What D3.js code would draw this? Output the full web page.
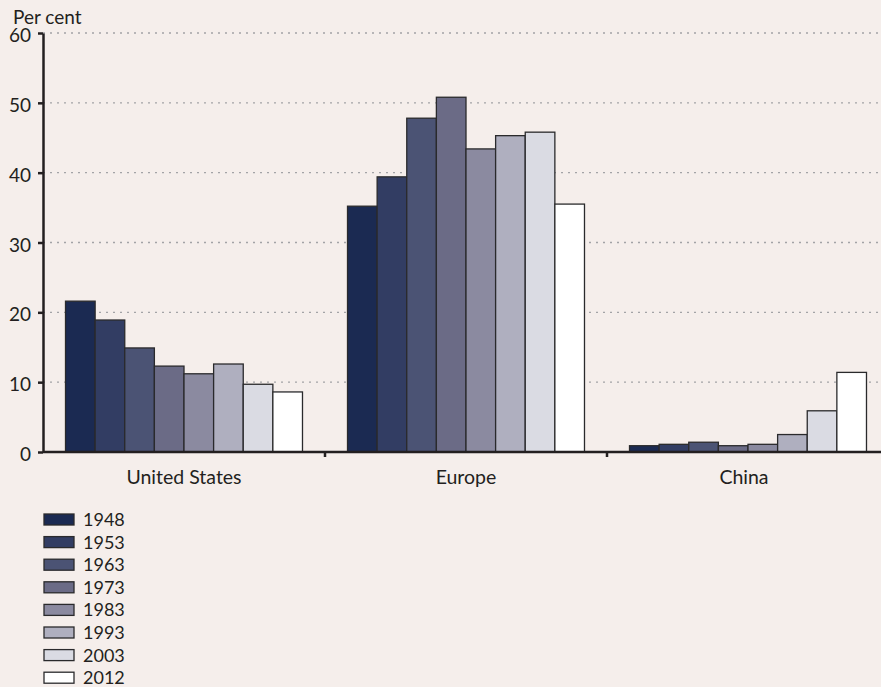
<html>
<head>
<script src="https://d3js.org/d3.v7.min.js"></script>
<style>
  body { margin: 0; background: #f5eeeb; }
  svg { display: block; background: #f5eeeb; font-family: Lato, "Open Sans", sans-serif; }
</style>
</head>
<body>
<svg id="chart"></svg>
<script>
// data (share of world, per cent)
var regions = ["United States", "Europe", "China"];
var years = ["1948", "1953", "1963", "1973", "1983", "1993", "2003", "2012"];
var usValues = [21.6, 18.9, 14.9, 12.3, 11.2, 12.6, 9.7, 8.6];
var europeValues = [35.2, 39.4, 47.8, 50.8, 43.4, 45.3, 45.8, 35.5];
var chinaValues = [0.9, 1.1, 1.4, 0.9, 1.1, 2.5, 5.9, 11.4];
var yTicks = [0, 10, 20, 30, 40, 50, 60];
var colors = ["#1b2a52", "#323d63", "#4b5374", "#6b6b86", "#8b8aa0", "#afafbf", "#dadbe3", "#ffffff"];

var W = 881, H = 687;
var svg = d3.select("#chart").attr("width", W).attr("height", H);

var plotLeft = 43, plotTop = 33, plotBottom = 452;

/* escalas */
var x0 = d3.scaleBand().domain(regions).range([plotLeft, 889]).paddingInner(0).paddingOuter(0);
var x1 = d3.scaleBand().domain(years).range([0, x0.bandwidth()]).paddingInner(0).paddingOuter(0.76);
var y = d3.scaleLinear().domain([0, 60]).range([plotBottom, plotTop]);
var color = d3.scaleOrdinal().domain(years).range(colors);

/* lineas de la grilla punteadas */
svg.append("g").selectAll("line").data(yTicks.filter(d => d > 0)).enter()
    .append("line")
    .attr("x1", plotLeft).attr("x2", W)
    .attr("y1", d => y(d)).attr("y2", d => y(d))
    .attr("stroke", "#a3a3a6")
    .attr("stroke-width", 1.3)
    .attr("stroke-dasharray", "2,5");

/* barras */
var table = regions.map((r, i) => ({region: r, values: [usValues, europeValues, chinaValues][i]}));
var groups = svg.append("g").selectAll("g").data(table).enter()
    .append("g")
    .attr("transform", d => "translate(" + x0(d.region) + ",0)");

groups.selectAll("rect").data(d => d.values.map((v, j) => ({year: years[j], value: v}))).enter()
    .append("rect")
    .attr("x", d => x1(d.year))
    .attr("y", d => y(d.value))
    .attr("width", x1.bandwidth())
    .attr("height", d => y(0) - y(d.value))
    .attr("fill", d => color(d.year))
    .attr("stroke", "#2a2a2c")
    .attr("stroke-width", 1.3);

/* eje y */
var yAxis = svg.append("g")
    .attr("transform", "translate(" + plotLeft + ",0)")
    .call(d3.axisLeft(y).tickValues(yTicks).tickSize(5).tickPadding(7).tickSizeOuter(0));
yAxis.select(".domain").attr("stroke", "#231f20").attr("stroke-width", 2.5);
yAxis.selectAll(".tick line").attr("stroke", "#231f20").attr("stroke-width", 2.5);
yAxis.selectAll("text")
    .attr("font-size", 19)
    .attr("fill", "#231f20")
    .attr("font-family", "Lato")
    .attr("dy", "0.45em");

/* eje x */
svg.append("line")
    .attr("x1", plotLeft).attr("x2", W)
    .attr("y1", plotBottom).attr("y2", plotBottom)
    .attr("stroke", "#231f20").attr("stroke-width", 2.5);

svg.append("g").selectAll("line").data(regions.slice(1)).enter()
    .append("line")
    .attr("x1", d => x0(d)).attr("x2", d => x0(d))
    .attr("y1", plotBottom).attr("y2", plotBottom + 5)
    .attr("stroke", "#231f20").attr("stroke-width", 2.5);

svg.append("g").selectAll("text").data(regions).enter()
    .append("text")
    .attr("x", d => x0(d) + x0.bandwidth() / 2 + (d === "China" ? -4 : 0))
    .attr("y", 484)
    .attr("text-anchor", "middle")
    .attr("font-size", 19.5)
    .attr("fill", "#231f20")
    .text(d => d);

/* Per cent */
svg.append("text")
    .attr("x", 13).attr("y", 24)
    .attr("font-size", 19)
    .attr("fill", "#231f20")
    .text("Per cent");

/* leyenda */
var legend = svg.append("g").selectAll("g").data(years).enter()
    .append("g")
    .attr("transform", (d, i) => "translate(44," + (514 + i * 22.6) + ")");

legend.append("rect")
    .attr("width", 30).attr("height", 11)
    .attr("fill", d => color(d))
    .attr("stroke", "#2a2a2c")
    .attr("stroke-width", 1.3);

legend.append("text")
    .attr("x", 39).attr("y", 12)
    .attr("font-size", 18)
    .attr("fill", "#231f20")
    .text(d => d);
</script>
</body>
</html>
